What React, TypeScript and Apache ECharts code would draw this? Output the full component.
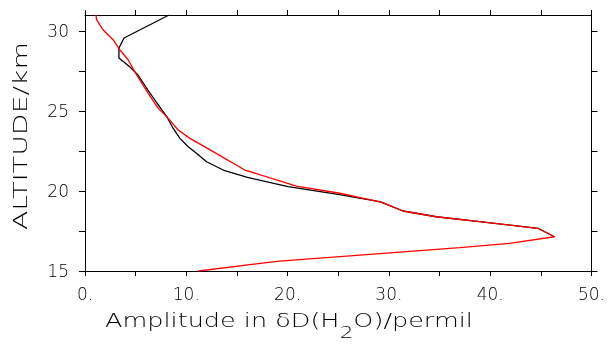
import React, { useEffect, useRef } from "react";
import * as echarts from "echarts";

// Black profile: [amplitude, altitude]
const blackAmp = [8.3, 3.85, 3.35, 3.35, 4.44, 5.23, 6.21, 7.1, 8.09, 8.68, 9.37, 10.19, 11.0, 12.0, 13.64, 15.95, 20.05, 24.98, 29.09, 31.39, 34.68, 38.95, 44.7, 46.35];
const blackAlt = [31.0, 29.56, 28.94, 28.31, 27.75, 27.25, 26.31, 25.5, 24.63, 23.94, 23.29, 22.77, 22.36, 21.83, 21.31, 20.86, 20.27, 19.79, 19.33, 18.75, 18.39, 18.08, 17.67, 17.14];

// Red profile
const redAmp = [1.08, 1.15, 1.8, 2.79, 3.45, 4.27, 5.1, 6.24, 7.23, 8.22, 9.2, 10.36, 12.65, 15.78, 20.87, 25.15, 29.42, 31.39, 34.68, 38.95, 44.7, 46.35, 41.9, 37.0, 29.1, 19.2, 11.2];
const redAlt = [31.0, 30.69, 30.06, 29.44, 28.81, 28.19, 27.25, 26.1, 25.17, 24.54, 23.81, 23.29, 22.46, 21.31, 20.31, 19.86, 19.27, 18.75, 18.39, 18.08, 17.67, 17.14, 16.73, 16.46, 16.08, 15.62, 15.0];

const xTicks = [0, 5, 10, 15, 20, 25, 30, 35, 40, 45, 50];
const xLabels = [0, 10, 20, 30, 40, 50];
const yTicks = [15, 17.5, 20, 22.5, 25, 27.5, 30];
const yLabels = [15, 20, 25, 30];

const xTitleA = "Amplitude in \u03B4D(H";
const xTitleSub = "2";
const xTitleB = "O)/permil";
const yTitle = "ALTITUDE/km";

const FONT = "'DejaVu Sans', sans-serif";
const WEIGHT = 200;
const TEXT_COLOR = "#000";

function measure(text: string, size: number): number {
  const c = document.createElement("canvas").getContext("2d");
  if (!c) return text.length * size * 0.6;
  c.font = `${WEIGHT} ${size}px 'DejaVu Sans'`;
  return c.measureText(text).width;
}

export default function App() {
  const ref = useRef<HTMLDivElement>(null);
  useEffect(() => {
    if (!ref.current) return;
    const chart = echarts.init(ref.current, null, { renderer: "svg" });
    const axisLine = () => ({ show: true, onZero: false, lineStyle: { color: "#000", width: 1 } });
    const tick = (vals: number[], len: number) => ({
      show: true, length: len, inside: false, lineStyle: { color: "#000", width: 1 }, customValues: vals.slice(),
    });
    const labelStyle = () => ({ color: TEXT_COLOR, fontFamily: FONT, fontWeight: WEIGHT, fontSize: 17 });

    const mainSize = 19;
    const subSize = 16;
    const wA = measure(xTitleA, mainSize);
    const wS = measure(xTitleSub, subSize);
    const wB = measure(xTitleB, mainSize);
    const xScale = 368 / (wA + wS + wB);
    const ySize = 20;
    const yScale = 188 / measure(yTitle, ySize);

    chart.setOption({
      animation: false,
      grid: { left: 85, right: 16, top: 15, bottom: 74, containLabel: false },
      xAxis: [
        {
          type: "value", position: "bottom", min: 0, max: 50,
          axisLine: axisLine(), splitLine: { show: false },
          axisTick: tick(xTicks, 5),
          axisLabel: { ...labelStyle(), margin: 14, customValues: xLabels.slice(), formatter: (v: number) => `${v}.` },
        },
        {
          type: "value", position: "top", min: 0, max: 50,
          axisLine: axisLine(), splitLine: { show: false },
          axisTick: tick(xTicks, 5),
          axisLabel: { show: false },
        },
      ],
      yAxis: [
        {
          type: "value", position: "left", min: 15, max: 31,
          axisLine: axisLine(), splitLine: { show: false },
          axisTick: tick(yTicks, 6),
          axisLabel: { ...labelStyle(), margin: 16, customValues: yLabels.slice(), formatter: (v: number) => `${v}` },
        },
        {
          type: "value", position: "right", min: 15, max: 31,
          axisLine: axisLine(), splitLine: { show: false },
          axisTick: tick(yTicks, 6),
          axisLabel: { show: false },
        },
      ],
      series: [
        {
          type: "line", xAxisIndex: 0, yAxisIndex: 0, showSymbol: false, symbol: "none",
          lineStyle: { color: "#000", width: 1.3 },
          data: blackAmp.map((a, i) => [a, blackAlt[i]]),
          z: 2,
        },
        {
          type: "line", xAxisIndex: 0, yAxisIndex: 0, showSymbol: false, symbol: "none",
          lineStyle: { color: "#ff0000", width: 1.3 },
          data: redAmp.map((a, i) => [a, redAlt[i]]),
          z: 3,
        },
        {
          type: "line", xAxisIndex: 1, yAxisIndex: 1, showSymbol: false, symbol: "none",
          lineStyle: { opacity: 0 }, silent: true, data: [],
        },
      ],
      graphic: [
        {
          type: "group", x: 105, y: 320, scaleX: xScale,
          children: [
            { type: "text", x: 0, y: 0, style: { text: xTitleA, font: `${WEIGHT} ${mainSize}px ${FONT}`, fill: TEXT_COLOR, verticalAlign: "middle", align: "left" } },
            { type: "text", x: wA, y: 12, style: { text: xTitleSub, font: `${WEIGHT} ${subSize}px ${FONT}`, fill: TEXT_COLOR, verticalAlign: "middle", align: "left" } },
            { type: "text", x: wA + wS, y: 0, style: { text: xTitleB, font: `${WEIGHT} ${mainSize}px ${FONT}`, fill: TEXT_COLOR, verticalAlign: "middle", align: "left" } },
          ],
        },
        {
          type: "text", x: 20, y: 136, rotation: Math.PI / 2, scaleX: yScale,
          style: { text: yTitle, font: `${WEIGHT} ${ySize}px ${FONT}`, fill: TEXT_COLOR, verticalAlign: "middle", align: "center" },
        },
      ],
    });
    return () => chart.dispose();
  }, []);
  return <div ref={ref} style={{ position: "fixed", left: 0, top: 0, width: 608, height: 345 }} />;
}
